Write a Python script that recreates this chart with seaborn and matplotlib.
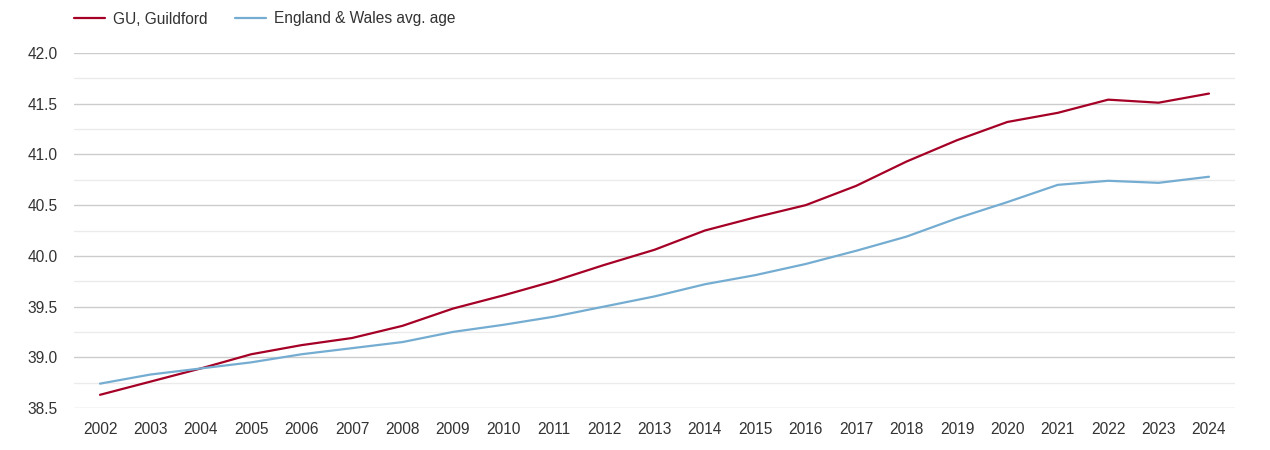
import numpy as np
import pandas as pd
import seaborn as sns
import matplotlib
matplotlib.use("Agg")
import matplotlib.pyplot as plt
from matplotlib.ticker import MultipleLocator, FormatStrFormatter
from matplotlib.lines import Line2D

years = list(range(2002, 2025))
guildford = [38.63, 38.76, 38.89, 39.03, 39.12, 39.19, 39.31, 39.48, 39.61, 39.75,
             39.91, 40.06, 40.25, 40.38, 40.50, 40.69, 40.93, 41.14, 41.32, 41.41,
             41.54, 41.51, 41.60]
england_wales = [38.74, 38.83, 38.89, 38.95, 39.03, 39.09, 39.15, 39.25, 39.32, 39.40,
                 39.50, 39.60, 39.72, 39.81, 39.92, 40.05, 40.19, 40.37, 40.53, 40.70,
                 40.74, 40.72, 40.78]
series_names = ["GU, Guildford", "England & Wales avg. age"]
colors = ["#a50026", "#74add1"]

df = pd.DataFrame({
    "year": years * 2,
    "age": guildford + england_wales,
    "series": [series_names[0]] * len(years) + [series_names[1]] * len(years),
})

sns.set_theme(style="white")
plt.rcParams["font.family"] = ["Liberation Sans", "DejaVu Sans"]

W, H = 1270, 450
fig = plt.figure(figsize=(W / 100, H / 100), dpi=100)
ax = fig.add_axes([74 / W, (H - 408) / H, (1235 - 74) / W, (408 - 53) / H])

sns.lineplot(data=df, x="year", y="age", hue="series", palette=colors,
             linewidth=1.6, ax=ax, legend=False)

ax.set_xlim(2002 - 0.516, 2024 + 0.516)
ax.set_ylim(38.5, 42.0)
ax.yaxis.set_major_locator(MultipleLocator(0.5))
ax.yaxis.set_minor_locator(MultipleLocator(0.25))
ax.yaxis.set_major_formatter(FormatStrFormatter("%.1f"))
ax.set_xticks(years)
ax.set_xticklabels([str(y) for y in years])
ax.grid(axis="y", which="major", color="#cccccc", linewidth=1.0)
ax.grid(axis="y", which="minor", color="#ebebeb", linewidth=1.0)
ax.grid(axis="x", visible=False)
ax.set_axisbelow(True)
for s in ax.spines.values():
    s.set_visible(False)
ax.tick_params(axis="both", which="both", length=0, labelsize=11.2, colors="#333333")
ax.tick_params(axis="y", pad=12)
ax.tick_params(axis="x", pad=10)
ax.set_xlabel("")
ax.set_ylabel("")

handles = [Line2D([0], [0], color=c, linewidth=1.6) for c in colors]
fig.legend(handles, series_names, loc="center left", bbox_to_anchor=(74 / W, 1 - 19 / H),
           ncol=2, frameon=False, fontsize=11.2, handlelength=2.0, handletextpad=0.5,
           columnspacing=1.75, borderpad=0, borderaxespad=0, labelcolor="#333333")

fig.savefig("out.png", dpi=100)
